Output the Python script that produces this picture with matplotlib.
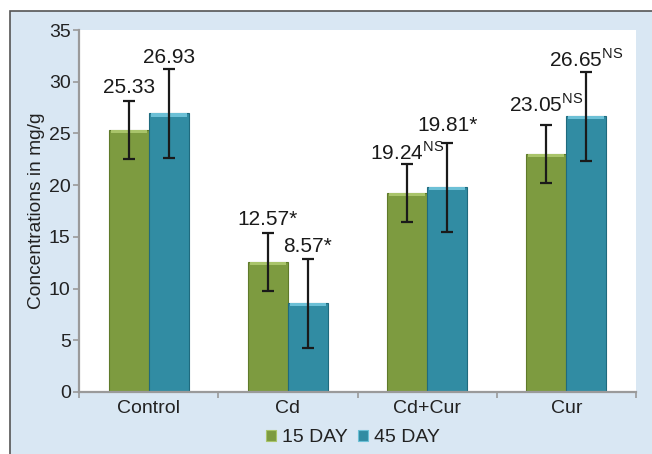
import matplotlib
matplotlib.use("Agg")
import matplotlib.pyplot as plt
from matplotlib.patches import Rectangle, Patch
import numpy as np

plt.rcParams['font.family'] = ['Liberation Sans', 'DejaVu Sans']
plt.rcParams['mathtext.fontset'] = 'custom'
plt.rcParams['mathtext.rm'] = 'Liberation Sans'

# ---- data ----
groups = ["Control", "Cd", "Cd+Cur", "Cur"]
series_names = ["15 DAY", "45 DAY"]
day15 = [25.33, 12.57, 19.24, 23.05]
day45 = [26.93, 8.57, 19.81, 26.65]
err15 = [2.8, 2.8, 2.8, 2.8]
err45 = [4.3, 4.3, 4.3, 4.3]
marks15 = ["", "*", "NS", "NS"]
marks45 = ["", "*", "*", "NS"]
yticks = [0, 5, 10, 15, 20, 25, 30, 35]

# label gap above the error-bar cap, in pixels
gap15 = [8, 8, 4, 13]
gap45 = [6, 7, 12, 5]

green = "#7d9b40"
green_edge = "#5f7a2a"
green_top = "#a9c46a"
teal = "#318ca3"
teal_edge = "#1f6a7e"
teal_top = "#6cc0d6"

fig = plt.figure(figsize=(6.52, 4.54), dpi=100)
fig.patch.set_facecolor("white")

# panel background with frame on left/top
bg = Rectangle((10 / 652, -0.05), 1.2, 1 - 11 / 454 + 0.05, transform=fig.transFigure,
               facecolor="#d9e7f3", edgecolor="#555555", linewidth=1.2, zorder=-10)
fig.patches.append(bg)

ax = fig.add_axes([79 / 652, 1 - 392 / 454, (636 - 79) / 652, (392 - 30) / 454])
ax.set_facecolor("white")

x = np.arange(len(groups))
w = 0.288


def label(v, m):
    if m == "NS":
        return f"{v:.2f}$^{{\\mathrm{{NS}}}}$"
    return f"{v:.2f}{m}"


for vals, errs, marks, gaps, off, fc, ec, tc in [
    (day15, err15, marks15, gap15, -w / 2, green, green_edge, green_top),
    (day45, err45, marks45, gap45, w / 2, teal, teal_edge, teal_top),
]:
    xs = x + off
    ax.bar(xs, vals, width=w, color=fc, edgecolor=ec, linewidth=0.8, zorder=2)
    # lighter bevel along the top of each bar
    ax.bar(xs, [0.3] * len(vals), bottom=np.array(vals) - 0.3, width=w * 0.9,
           color=tc, linewidth=0, zorder=3)
    ax.errorbar(xs, vals, yerr=errs, fmt="none", ecolor="#1a1a1a", elinewidth=1.6,
                capsize=4, capthick=1.6, zorder=4)
    for xi, v, e, m, g in zip(xs, vals, errs, marks, gaps):
        ax.annotate(label(v, m), (xi, v + e), xytext=(0, g), textcoords="offset pixels",
                    ha="center", va="baseline", fontsize=15, color="#1a1a1a", zorder=5)

ax.set_xlim(-0.5, len(groups) - 0.5)
ax.set_ylim(0, 35)
ax.set_yticks(yticks)
ax.set_yticklabels([str(t) for t in yticks])
ax.set_xticks(x)
ax.set_xticklabels(groups)
ax.set_xticks(np.arange(-0.5, len(groups), 1.0), minor=True)

for s in ["top", "right"]:
    ax.spines[s].set_visible(False)
for s in ["left", "bottom"]:
    ax.spines[s].set_color("#9a9a9a")
    ax.spines[s].set_linewidth(1.6)

ax.tick_params(axis="y", direction="out", length=4, width=1.2, color="#9a9a9a",
               labelsize=14, labelcolor="#222222", pad=2)
ax.tick_params(axis="x", which="major", length=0, labelsize=14, labelcolor="#222222", pad=6)
ax.tick_params(axis="x", which="minor", direction="out", length=4, width=1.2, color="#9a9a9a")

ax.set_ylabel("Concentrations in mg/g", fontsize=13.8, color="#222222", labelpad=3)

handles = [Patch(facecolor=green, edgecolor=green_top, linewidth=0.8),
           Patch(facecolor=teal, edgecolor=teal_top, linewidth=0.8)]
fig.legend(handles, series_names, loc="center", bbox_to_anchor=(353 / 652, 1 - 438 / 454),
           ncol=2, frameon=False, fontsize=14, handlelength=0.55, handleheight=0.55,
           handletextpad=0.3, columnspacing=0.5, labelcolor="#222222")

fig.savefig("out.png", dpi=100, facecolor=fig.get_facecolor())
